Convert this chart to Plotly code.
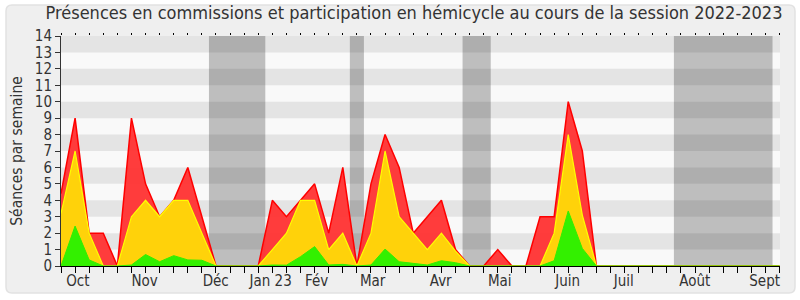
import plotly.graph_objects as go

# Weekly data, session 2022-2023 (week index 0 = first week of October)
weeks = list(range(52))
red_total = [4.4, 9, 2, 2, 0, 9, 5, 3, 4, 6, 3, 0, 0, 0, 0, 4, 3, 4, 5, 2, 6, 0, 5, 8, 6, 2, 3, 4, 1, 0,
             0, 1, 0, 0, 3, 3, 10, 7, 0, 0, 0, 0, 0, 0, 0, 0, 0, 0, 0, 0, 0, 0]
yellow = [3.2, 7, 2, 0, 0, 3, 4, 3, 4, 4, 2, 0, 0, 0, 0, 1, 2, 4, 4, 1, 2, 0, 2, 7, 3, 2, 1, 2, 0.9, 0,
          0, 0, 0, 0, 0, 2, 8, 3.1, 0, 0, 0, 0, 0, 0, 0, 0, 0, 0, 0, 0, 0, 0]
green = [0, 2.43, 0.37, 0, 0, 0.06, 0.7, 0.26, 0.63, 0.37, 0.35, 0, 0, 0, 0, 0.06, 0.05, 0.57, 1.18, 0.06,
         0.1, 0, 0.06, 1.03, 0.26, 0.16, 0.06, 0.32, 0.2, 0, 0, 0, 0, 0, 0, 0.32, 3.35, 1.07, 0, 0, 0, 0,
         0, 0, 0, 0, 0, 0, 0, 0, 0, 0]

month_labels = ["Oct", "Nov", "Déc", "Jan 23", "Fév", "Mar", "Avr", "Mai", "Juin", "Juil", "Août", "Sept"]
month_pos = [1.2, 5.94, 10.98, 14.88, 18.15, 22.12, 26.95, 31.14, 35.96, 39.94, 44.98, 49.94]
vacations = [(10.5, 14.5), (20.5, 21.5), (28.5, 30.5), (43.5, 50.5)]

XMAX = 51.03
FONT = "DejaVu Sans Condensed, DejaVu Sans"

fig = go.Figure()
fig.add_trace(go.Scatter(x=weeks, y=red_total, mode="lines", fill="tozeroy",
                         line=dict(color="#ff0000", width=1.5), fillcolor="rgba(255,50,50,0.95)",
                         hoverinfo="skip", showlegend=False))
fig.add_trace(go.Scatter(x=weeks, y=yellow, mode="lines", fill="tozeroy",
                         line=dict(color="#ffff00", width=1.2), fillcolor="#ffd20a",
                         hoverinfo="skip", showlegend=False))
fig.add_trace(go.Scatter(x=weeks, y=green, mode="lines", fill="tozeroy",
                         line=dict(color="#33ee00", width=1), fillcolor="#33f000",
                         hoverinfo="skip", showlegend=False))
# invisible trace for top tick axis
fig.add_trace(go.Scatter(x=[0, XMAX], y=[0, 0], xaxis="x2", mode="lines",
                         line=dict(width=0, color="rgba(0,0,0,0)"), hoverinfo="skip", showlegend=False))

# Geometry helpers (plot area in px)
L, R, T, B = 61, 20, 36, 34
W, H = 800, 300
pw, ph = W - L - R, H - T - B


def px(x):
    return (x - L) / pw


def py(y):
    return (H - B - y) / ph


shapes = []
# rounded outer frame
x0, x1, y0, y1, r = 6, 795, 5, 293, 6
path = (f"M {px(x0 + r)} {py(y0)} L {px(x1 - r)} {py(y0)} Q {px(x1)} {py(y0)} {px(x1)} {py(y0 + r)} "
        f"L {px(x1)} {py(y1 - r)} Q {px(x1)} {py(y1)} {px(x1 - r)} {py(y1)} "
        f"L {px(x0 + r)} {py(y1)} Q {px(x0)} {py(y1)} {px(x0)} {py(y1 - r)} "
        f"L {px(x0)} {py(y0 + r)} Q {px(x0)} {py(y0)} {px(x0 + r)} {py(y0)} Z")
shapes.append(dict(type="path", path=path, xref="paper", yref="paper", layer="below",
                   fillcolor="#efefef", line=dict(color="#e2e2e2", width=1.5)))
# plot background stripes
shapes.append(dict(type="rect", xref="paper", yref="paper", x0=0, x1=1, y0=0, y1=1, layer="below",
                   fillcolor="#f9f9f9", line=dict(width=0)))
for k in range(1, 14, 2):
    shapes.append(dict(type="rect", xref="paper", yref="y", x0=0, x1=1, y0=k, y1=k + 1, layer="below",
                       fillcolor="#e4e4e4", line=dict(width=0)))
for a, b in vacations:
    shapes.append(dict(type="rect", xref="x", yref="paper", x0=a, x1=b, y0=0, y1=1, layer="below",
                       fillcolor="rgba(0,0,0,0.235)", line=dict(width=0)))

fig.update_layout(
    width=W, height=H,
    margin=dict(l=L, r=R, t=T, b=B, autoexpand=False),
    paper_bgcolor="white",
    plot_bgcolor="rgba(0,0,0,0)",
    font=dict(family=FONT, color="#333333", size=15),
    title=dict(text="Présences en commissions et participation en hémicycle au cours de la session 2022-2023",
               x=414 / W, xanchor="center", y=1 - 13 / H, yanchor="middle",
               font=dict(family=FONT, size=18, color="#333333")),
    shapes=shapes,
    xaxis=dict(range=[0, XMAX], showgrid=False, zeroline=False, showline=True, linecolor="#000000",
               linewidth=1, tickvals=month_pos, ticktext=month_labels, ticks="outside",
               ticklen=1, tickcolor="rgba(0,0,0,0)", tickfont=dict(family=FONT, size=15, color="#333333"),
               minor=dict(tickvals=weeks, ticks="outside", ticklen=6, tickcolor="#000000", showgrid=False),
               fixedrange=True, automargin=False),
    xaxis2=dict(range=[0, XMAX], overlaying="x", side="top", showgrid=False, zeroline=False,
                showline=False, tickvals=weeks, ticks="outside", ticklen=2, tickcolor="#000000",
                showticklabels=False, automargin=False),
    yaxis=dict(range=[0, 14], showgrid=False, zeroline=False, showline=True, linecolor="#333333",
               linewidth=1, tickvals=list(range(15)), ticks="outside", ticklen=5, tickcolor="#333333",
               tickfont=dict(family=FONT, size=15, color="#333333"), automargin=False,
               title=dict(text="Séances par semaine",
                          font=dict(family=FONT, size=15.5, color="#333333"), standoff=8)),
)

fig.write_html("out.html")
